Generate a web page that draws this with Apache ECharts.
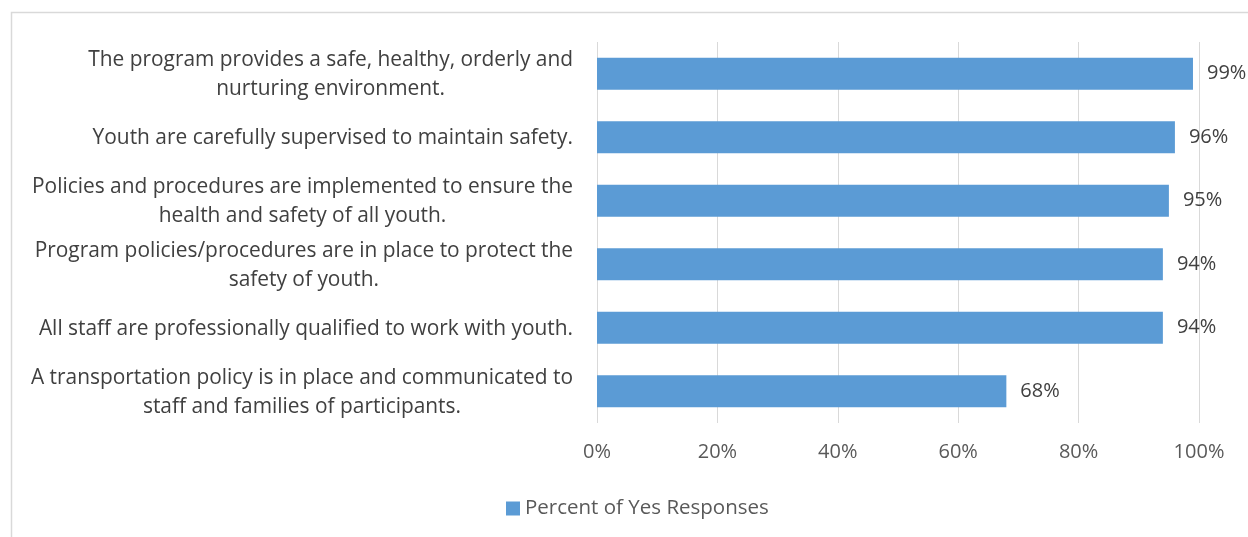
<!DOCTYPE html>
<html>
<head>
<meta charset="utf-8">
<script src="https://cdn.jsdelivr.net/npm/echarts@6/dist/echarts.min.js"></script>
<style>
  html, body { margin: 0; padding: 0; background: #fff; }
  #chart { width: 1248px; height: 537px; }
</style>
</head>
<body>
<div id="chart"></div>
<script>
// Survey statements (top to bottom) and share of "yes" answers
const categories = [
  'The program provides a safe, healthy, orderly and\nnurturing environment.',
  'Youth are carefully supervised to maintain safety.',
  'Policies and procedures are implemented to ensure the\nhealth and safety of all youth.',
  'Program policies/procedures are in place to protect the\nsafety of youth.',
  'All staff are professionally qualified to work with youth.',
  'A transportation policy is in place and communicated to\nstaff and families of participants.'
];
const yesPercent = [0.99, 0.96, 0.95, 0.94, 0.94, 0.68];
const xTicks = [0, 0.2, 0.4, 0.6, 0.8, 1.0];
const seriesName = 'Percent of Yes Responses';

const FONT = '"Open Sans", "Liberation Sans", sans-serif';
const LABEL_SIZE = 20.9;
const LABEL_RIGHT = 573;   // right edge of the category label block
const LINE_H = 29;

const chart = echarts.init(document.getElementById('chart'), null, { renderer: 'canvas' });

const option = {
  backgroundColor: '#ffffff',
  animation: false,
  textStyle: { fontFamily: FONT },
  grid: { left: 597, right: 49, top: 42, bottom: 114, containLabel: false },
  legend: {
    left: 506, top: 498, padding: 0,
    icon: 'rect', itemWidth: 14, itemHeight: 14, itemGap: 10,
    textStyle: { fontSize: 20.5, color: '#595959', fontFamily: FONT },
    data: [seriesName]
  },
  xAxis: {
    type: 'value', min: xTicks[0], max: xTicks[xTicks.length - 1], interval: 0.2,
    axisLine: { show: false }, axisTick: { show: false },
    splitLine: { show: true, lineStyle: { color: '#d9d9d9', width: 1 } },
    axisLabel: {
      margin: 19, fontSize: 20, color: '#595959', fontFamily: FONT,
      formatter: v => Math.round(v * 100) + '%'
    }
  },
  yAxis: {
    type: 'category', inverse: true, data: categories,
    axisLine: { show: false }, axisTick: { show: false },
    axisLabel: { show: false }, splitLine: { show: false }
  },
  series: [{
    name: seriesName, type: 'bar', data: yesPercent, barWidth: 32,
    itemStyle: { color: '#5b9bd5' },
    label: {
      show: true, position: 'right', distance: 14,
      fontSize: 20, color: '#404040', fontFamily: FONT,
      formatter: p => Math.round(p.value * 100) + '%'
    }
  }]
};
chart.setOption(option);

// Category labels: each block right-aligned next to the plot, lines centred within the block
const ctx = document.createElement('canvas').getContext('2d');
ctx.font = LABEL_SIZE + 'px ' + FONT;
const graphics = [
  {
    type: 'rect', silent: true, z: -10,
    shape: { x: 11.5, y: 12.5, width: 1300, height: 600 },
    style: { fill: 'none', stroke: '#d9d9d9', lineWidth: 1.5 }
  }
];
categories.forEach((c, i) => {
  const lines = c.split('\n');
  const w = Math.max(...lines.map(l => ctx.measureText(l).width));
  const y = chart.convertToPixel({ yAxisIndex: 0 }, i);
  graphics.push({
    type: 'text', silent: true,
    x: LABEL_RIGHT - w / 2, y: y + 1,
    style: {
      text: c, fontSize: LABEL_SIZE, fontFamily: FONT, fill: '#404040',
      align: 'center', verticalAlign: 'middle', lineHeight: LINE_H
    }
  });
});
chart.setOption({ graphic: graphics });
</script>
</body>
</html>
